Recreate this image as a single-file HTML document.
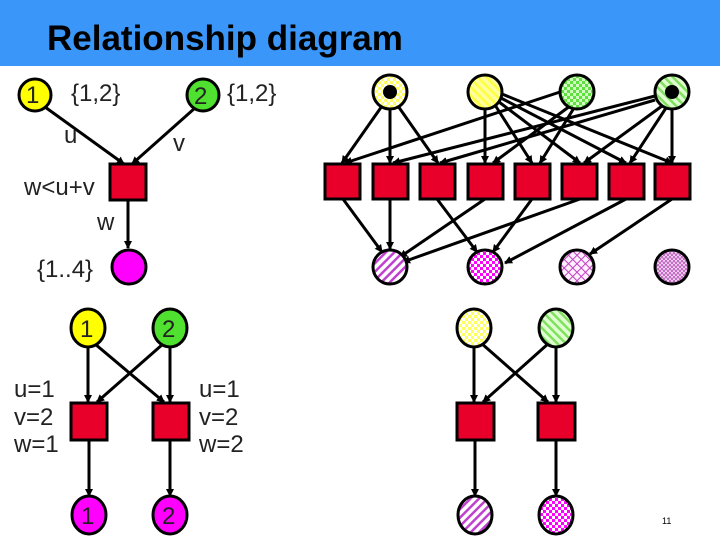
<!DOCTYPE html>
<html><head><meta charset="utf-8"><style>
body{margin:0;width:720px;height:540px;overflow:hidden;background:#fff}
svg{display:block}
text{font-family:"Liberation Sans",sans-serif}
</style></head><body>
<svg width="720" height="540" viewBox="0 0 720 540" xmlns="http://www.w3.org/2000/svg">
<defs>
<marker id="a" markerWidth="8" markerHeight="8" refX="7" refY="4" orient="auto" markerUnits="userSpaceOnUse"><path d="M0,0 L8,4 L0,8 z" fill="#000"/></marker>
<pattern id="ychk" width="6" height="6" patternUnits="userSpaceOnUse"><rect width="6" height="6" fill="#ffff60"/><rect width="3" height="3" fill="#fff"/><rect x="3" y="3" width="3" height="3" fill="#fff"/></pattern>
<pattern id="ystr" width="6" height="6" patternUnits="userSpaceOnUse" patternTransform="rotate(-45)"><rect width="6" height="6" fill="#ffffa0"/><rect width="2.5" height="6" fill="#ffff40"/></pattern>
<pattern id="gchk" width="6" height="6" patternUnits="userSpaceOnUse"><rect width="6" height="6" fill="#60e040"/><rect width="3" height="3" fill="#d0ffc0"/><rect x="3" y="3" width="3" height="3" fill="#d0ffc0"/></pattern>
<pattern id="gstr" width="6" height="6" patternUnits="userSpaceOnUse" patternTransform="rotate(-45)"><rect width="6" height="6" fill="#e0ffd0"/><rect width="2.5" height="6" fill="#80e060"/></pattern>
<pattern id="mstr" width="6" height="6" patternUnits="userSpaceOnUse" patternTransform="rotate(45)"><rect width="6" height="6" fill="#fff"/><rect width="2.5" height="6" fill="#c040d0"/></pattern>
<pattern id="mchk" width="6" height="6" patternUnits="userSpaceOnUse"><rect width="6" height="6" fill="#ff00ff"/><rect width="3" height="3" fill="#fff"/><rect x="3" y="3" width="3" height="3" fill="#fff"/></pattern>
<pattern id="mx" width="6" height="6" patternUnits="userSpaceOnUse" patternTransform="rotate(45)"><rect width="6" height="6" fill="#fff0ff"/><rect width="1" height="6" fill="#c040c0"/><rect width="6" height="1" fill="#c040c0"/></pattern>
<pattern id="mz" width="4" height="4" patternUnits="userSpaceOnUse"><rect width="4" height="4" fill="#f0d0f0"/><path d="M0,4 L2,0 L4,4" stroke="#b040b0" stroke-width="0.8" fill="none"/></pattern>
</defs>
<rect x="0" y="0" width="720" height="66" fill="#3a96f8"/>
<text x="47" y="50" font-size="35" font-weight="bold" fill="#000">Relationship diagram</text>

<g stroke="#000" stroke-width="3" fill="none" marker-end="url(#a)">
<!-- left top diagram -->
<line x1="45" y1="107" x2="124" y2="164"/>
<line x1="195" y1="108" x2="132" y2="164"/>
<line x1="128" y1="200" x2="128" y2="248"/>
<!-- right top: circles to squares -->
<line x1="382" y1="106" x2="342" y2="163"/>
<line x1="390" y1="109" x2="390" y2="163"/>
<line x1="398" y1="106" x2="438" y2="163"/>
<line x1="485" y1="109" x2="485" y2="163"/>
<line x1="495" y1="105" x2="532" y2="163"/>
<line x1="499" y1="102" x2="580" y2="163"/>
<line x1="501" y1="98" x2="626" y2="163"/>
<line x1="502" y1="94" x2="672" y2="163"/>
<line x1="560" y1="92" x2="345" y2="163"/>
<line x1="570" y1="106" x2="493" y2="163"/>
<line x1="574" y1="108" x2="540" y2="163"/>
<line x1="655" y1="96" x2="393" y2="163"/>
<line x1="655" y1="100" x2="440" y2="163"/>
<line x1="662" y1="106" x2="584" y2="163"/>
<line x1="666" y1="108" x2="630" y2="163"/>
<line x1="672" y1="109" x2="672" y2="163"/>
<!-- squares to bottom -->
<line x1="343" y1="199" x2="382" y2="252"/>
<line x1="390" y1="199" x2="390" y2="249"/>
<line x1="437" y1="199" x2="477" y2="252"/>
<line x1="485" y1="199" x2="400" y2="257"/>
<line x1="532" y1="199" x2="493" y2="252"/>
<line x1="580" y1="199" x2="403" y2="262"/>
<line x1="626" y1="199" x2="505" y2="263"/>
<line x1="672" y1="199" x2="590" y2="254"/>
<!-- bottom left -->
<line x1="88" y1="346" x2="88" y2="402"/>
<line x1="95" y1="344" x2="164" y2="402"/>
<line x1="163" y1="344" x2="97" y2="402"/>
<line x1="170" y1="346" x2="170" y2="402"/>
<line x1="89" y1="440" x2="89" y2="496"/>
<line x1="170" y1="440" x2="170" y2="496"/>
<!-- bottom right -->
<line x1="474" y1="346" x2="474" y2="402"/>
<line x1="481" y1="343" x2="548" y2="402"/>
<line x1="549" y1="343" x2="483" y2="402"/>
<line x1="556" y1="346" x2="556" y2="402"/>
<line x1="475" y1="440" x2="475" y2="496"/>
<line x1="556" y1="440" x2="556" y2="496"/>
</g>

<g stroke="#000" stroke-width="3">
<circle cx="35" cy="95" r="16" fill="#ffff00"/>
<circle cx="203" cy="95" r="16" fill="#50e030"/>
<rect x="110" y="164" width="36" height="36" fill="#e8002a"/>
<circle cx="129" cy="267" r="17" fill="#ff00ff"/>

<circle cx="390" cy="92" r="17" fill="url(#ychk)"/>
<circle cx="485" cy="92" r="17" fill="url(#ystr)"/>
<circle cx="577" cy="92" r="17" fill="url(#gchk)"/>
<circle cx="672" cy="92" r="17" fill="url(#gstr)"/>
<rect x="325" y="164" width="35" height="35" fill="#e8002a"/>
<rect x="373" y="164" width="35" height="35" fill="#e8002a"/>
<rect x="420" y="164" width="35" height="35" fill="#e8002a"/>
<rect x="468" y="164" width="35" height="35" fill="#e8002a"/>
<rect x="515" y="164" width="35" height="35" fill="#e8002a"/>
<rect x="562" y="164" width="35" height="35" fill="#e8002a"/>
<rect x="609" y="164" width="35" height="35" fill="#e8002a"/>
<rect x="655" y="164" width="35" height="35" fill="#e8002a"/>
<circle cx="390" cy="267" r="17" fill="url(#mstr)"/>
<circle cx="485" cy="267" r="17" fill="url(#mchk)"/>
<circle cx="577" cy="267" r="17" fill="url(#mx)"/>
<circle cx="672" cy="267" r="17" fill="url(#mz)"/>

<ellipse cx="88" cy="328" rx="17" ry="19" fill="#ffff00"/>
<ellipse cx="170" cy="328" rx="17" ry="19" fill="#50e030"/>
<rect x="71" y="403" width="36" height="37" fill="#e8002a"/>
<rect x="153" y="403" width="36" height="37" fill="#e8002a"/>
<ellipse cx="89" cy="515" rx="17" ry="19" fill="#ff00ff"/>
<ellipse cx="170" cy="515" rx="17" ry="19" fill="#ff00ff"/>

<ellipse cx="474" cy="328" rx="17" ry="19" fill="url(#ychk)"/>
<ellipse cx="556" cy="328" rx="17" ry="19" fill="url(#gstr)"/>
<rect x="457" y="403" width="37" height="37" fill="#e8002a"/>
<rect x="538" y="403" width="37" height="37" fill="#e8002a"/>
<ellipse cx="475" cy="515" rx="17" ry="19" fill="url(#mstr)"/>
<ellipse cx="556" cy="515" rx="17" ry="19" fill="url(#mchk)"/>
</g>
<circle cx="390" cy="92" r="7" fill="#000"/>
<circle cx="672" cy="92" r="7" fill="#000"/>

<g font-size="24" fill="#222">
<text x="26" y="103">1</text>
<text x="194" y="104">2</text>
<text x="71" y="101">{1,2}</text>
<text x="227" y="101">{1,2}</text>
<text x="64" y="143">u</text>
<text x="173" y="151">v</text>
<text x="24" y="195">w&lt;u+v</text>
<text x="97" y="230">w</text>
<text x="37" y="277">{1..4}</text>
<text x="80" y="337">1</text>
<text x="162" y="337">2</text>
<text x="81" y="524">1</text>
<text x="162" y="524">2</text>
<text x="14" y="397">u=1</text>
<text x="14" y="425">v=2</text>
<text x="14" y="452">w=1</text>
<text x="199" y="397">u=1</text>
<text x="199" y="425">v=2</text>
<text x="199" y="452">w=2</text>
</g>
<text x="662" y="524" font-size="9" fill="#000">11</text>
</svg>
</body></html>
